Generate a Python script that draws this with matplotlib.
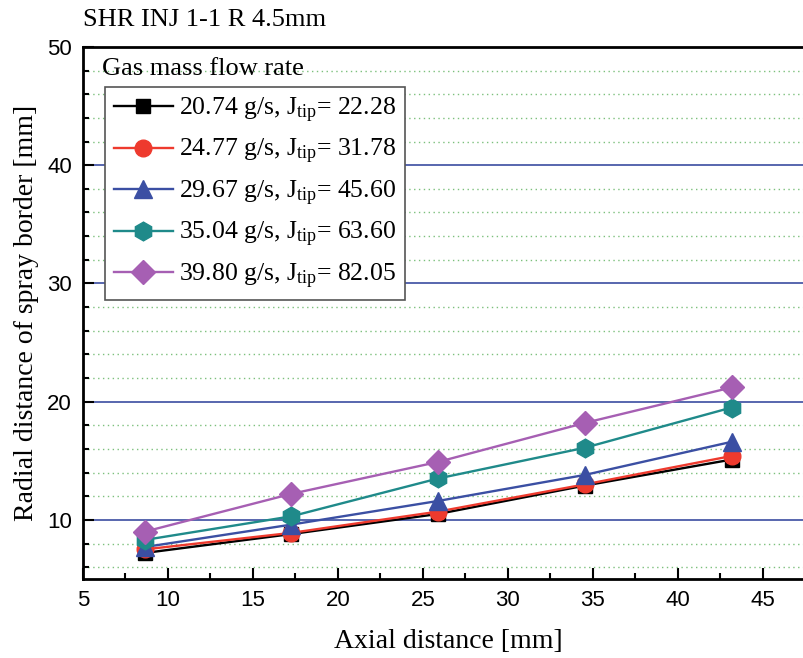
import numpy as np
import matplotlib
matplotlib.use("Agg")
import matplotlib.pyplot as plt
from matplotlib.ticker import MultipleLocator

plt.rcParams['font.family'] = ['Liberation Serif', 'DejaVu Serif']
plt.rcParams['mathtext.fontset'] = 'custom'
plt.rcParams['mathtext.rm'] = 'Liberation Serif'
plt.rcParams['mathtext.it'] = 'Liberation Serif:italic'

# data
axial = [8.63, 17.26, 25.89, 34.52, 43.15]
black_sq = [7.2, 8.8, 10.5, 12.9, 15.1]
red_circ = [7.5, 8.9, 10.7, 13.0, 15.4]
blue_tri = [7.7, 9.6, 11.6, 13.8, 16.6]
teal_hex = [8.3, 10.3, 13.5, 16.1, 19.5]
purple_dia = [9.0, 12.2, 14.9, 18.2, 21.2]

labels = [r"20.74 g/s, J$_{\rm tip}$= 22.28",
          r"24.77 g/s, J$_{\rm tip}$= 31.78",
          r"29.67 g/s, J$_{\rm tip}$= 45.60",
          r"35.04 g/s, J$_{\rm tip}$= 63.60",
          r"39.80 g/s, J$_{\rm tip}$= 82.05"]

series = [black_sq, red_circ, blue_tri, teal_hex, purple_dia]
colors = ['#000000', '#ee3a2e', '#3b4fa3', '#1f8a8a', '#a65fb3']
markers = ['s', 'o', '^', 'h', 'D']
msizes = [10.5, 12, 12.5, 13.5, 12.5]

fig = plt.figure(figsize=(8.04, 6.58), dpi=100)
ax = fig.add_axes([0.1032, 0.1201, 0.9092, 0.8085])

for y, c, m, ms, lab in zip(series, colors, markers, msizes, labels):
    ax.plot(axial, y, color=c, marker=m, markersize=ms, lw=1.7,
            markeredgecolor=c, label=lab, zorder=3)

ax.set_xlim(5, 48)
ax.set_ylim(5, 50)
ax.xaxis.set_major_locator(MultipleLocator(5))
ax.xaxis.set_minor_locator(MultipleLocator(2.5))
ax.yaxis.set_major_locator(MultipleLocator(10))
ax.yaxis.set_minor_locator(MultipleLocator(2))

ax.grid(which='major', axis='y', color='#4a5aa8', lw=1.3, zorder=1)
ax.grid(which='minor', axis='y', color='#7cc07c', lw=1, ls=(0, (1, 2.5)), zorder=1)
ax.set_axisbelow(True)

for s in ['left', 'bottom', 'top']:
    ax.spines[s].set_linewidth(2)
ax.spines['right'].set_visible(False)

ax.tick_params(which='both', direction='in', width=1.5, labelsize=16,
               labelfontfamily='Liberation Sans', pad=8)
ax.tick_params(which='major', length=8)
ax.tick_params(which='minor', length=4)

ax.set_xlabel('Axial distance [mm]', fontsize=20, labelpad=13)
ax.set_ylabel('Radial distance of spray border [mm]', fontsize=20, labelpad=6)

fig.text(83 / 804, 1 - 20 / 658, 'SHR INJ 1-1 R 4.5mm', fontsize=19,
         va='center', ha='left')
ax.text(0.026, 0.958, 'Gas mass flow rate', transform=ax.transAxes,
        fontsize=19, va='center', ha='left')

leg = ax.legend(loc='upper left', bbox_to_anchor=(0.03, 0.925), fontsize=18.5,
                handlelength=2.3, handletextpad=0.25, labelspacing=0.48,
                borderpad=0.35, borderaxespad=0, fancybox=False,
                framealpha=1, edgecolor='#555555')
leg.get_frame().set_linewidth(1.2)

fig.savefig('out.png', dpi=100)
